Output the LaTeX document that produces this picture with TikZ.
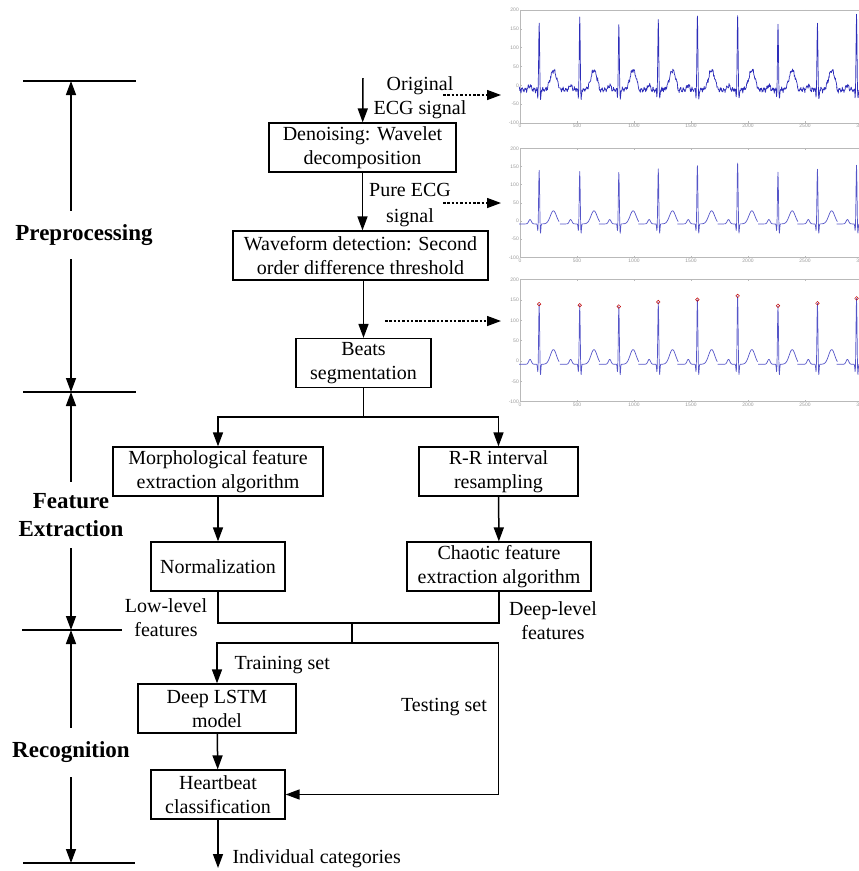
\documentclass[tikz,border=0pt]{standalone}
\usepackage{fontspec}
\setmainfont{Liberation Serif}
\setsansfont{Liberation Sans}
\usetikzlibrary{arrows.meta}

\definecolor{ecgdark}{RGB}{45,45,185}
\definecolor{ecglight}{RGB}{85,85,200}

\tikzset{
  box/.style={draw,line width=1.2pt,align=center,minimum height=49pt,inner xsep=3pt,inner ysep=0pt},
  line/.style={line width=1.5pt},
  arr/.style={line width=1.5pt,-{Triangle[length=14pt,width=10pt]}},
  dasharr/.style={line width=1.3pt,dash pattern=on 2.5pt off 1.8pt,-{Triangle[length=14pt,width=10pt]}},
  lab/.style={align=center},
  sect/.style={align=center,font=\fontsize{23}{28}\selectfont\bfseries},
  ecgline/.style={line width=0.7pt,line join=round},
  axbox/.style={draw=gray!55,line width=0.4pt},
  ticklab/.style={font=\sffamily\fontsize{5}{6}\selectfont,text=gray!80,inner sep=1pt},
}

\begin{document}
\begin{tikzpicture}[x=1pt,y=-1pt,font=\fontsize{20}{24}\selectfont,
  declare function={gauss(\pos,\wid)=exp(-min((\pos/\wid)*(\pos/\wid),9));
    ecgbeat(\pos,\hgt,\tamp,\base)=\base+(\hgt-\base)*gauss(\pos,6)-22*gauss(\pos+11,5)-30*gauss(\pos-11,5)+12*gauss(\pos+80,16)+\tamp*gauss(\pos-125,38);}]
    \useasboundingbox (0,0) rectangle (859,871);

    % ECG panels
    \begin{scope}[shift={(520,85.3)},x=0.114pt,y=0.3767pt]
        \draw[axbox] (0,-100) rectangle (3100,200);
        \foreach \v in {-100,-50,...,200} {\draw[axbox] (0,\v) -- ++(15,0); \node[ticklab,anchor=east] at (0,\v) {\v};}
        \foreach \v in {0,500,...,3000} {\draw[axbox] (\v,-100) -- ++(0,4); \draw[axbox] (\v,200) -- ++(0,-4); \node[ticklab,anchor=north] at (\v,-100) {\v};}
        \foreach \r/\h in {168/163,524/178,867/158,1213/175,1556/185,1909/183,2263/160,2609/162,2952/186}
            \draw[ecgline,ecgdark,shift={(\r,0)}] plot[domain=-175:175,samples=141] (\x,{ecgbeat(\x,\h,52,-12)+4*sin(14*\x)+2.5*sin(37*\x+40)+3*rand});
    \end{scope}
    \begin{scope}[shift={(520,221)},x=0.114pt,y=0.3633pt]
        \draw[axbox] (0,-100) rectangle (3100,200);
        \foreach \v in {-100,-50,...,200} {\draw[axbox] (0,\v) -- ++(15,0); \node[ticklab,anchor=east] at (0,\v) {\v};}
        \foreach \v in {0,500,...,3000} {\draw[axbox] (\v,-100) -- ++(0,4); \draw[axbox] (\v,200) -- ++(0,-4); \node[ticklab,anchor=north] at (\v,-100) {\v};}
        \foreach \r/\h in {168/140,524/137,867/134,1213/144,1556/153,1909/160,2263/135,2609/143,2952/154}
            \draw[ecgline,ecglight,shift={(\r,0)}] plot[domain=-175:175,samples=141] (\x,{ecgbeat(\x,\h,36,-8)});
    \end{scope}
    \begin{scope}[shift={(520,361)},x=0.114pt,y=0.4067pt]
        \draw[axbox] (0,-100) rectangle (3100,200);
        \foreach \v in {-100,-50,...,200} {\draw[axbox] (0,\v) -- ++(15,0); \node[ticklab,anchor=east] at (0,\v) {\v};}
        \foreach \v in {0,500,...,3000} {\draw[axbox] (\v,-100) -- ++(0,4); \draw[axbox] (\v,200) -- ++(0,-4); \node[ticklab,anchor=north] at (\v,-100) {\v};}
        \foreach \r/\h in {168/140,524/137,867/134,1213/145,1556/151,1909/160,2263/136,2609/142,2952/154} {
            \draw[ecgline,ecglight,shift={(\r,0)}] plot[domain=-175:175,samples=141] (\x,{ecgbeat(\x,\h,36,-8)});
            \draw[red!75!black,line width=0.5pt] (\r,\h) circle[radius=1.8pt];
        }
    \end{scope}

    % stages on the left
    \node[sect,minimum height=48pt] (prep) at (84,235) {Preprocessing};
    \node[sect,minimum height=66pt] (feat) at (71,515) {Feature\\Extraction};
    \node[sect,minimum height=49pt] (recog) at (71,752.5) {Recognition};
    \coordinate (t1) at (71,81);
    \coordinate (t2) at (71,392);
    \coordinate (t3) at (71,630);
    \coordinate (t4) at (71,863);
    \draw[line] (23,81) -- (136,81);
    \draw[line] (23,392) -- (136,392);
    \draw[line] (22,630) -- (122,630);
    \draw[line] (23,863) -- (135,863);
    \draw[arr] (prep.north -| t1) -- (t1);
    \draw[arr] (prep.south -| t1) -- (t2);
    \draw[arr] (feat.north) -- (t2);
    \draw[arr] (feat.south) -- (t3);
    \draw[arr] (recog.north) -- (t3);
    \draw[arr] (recog.south) -- (t4);

    % flow
    \node[box,minimum width=187pt] (denoise) at (362.5,147.5) {Denoising: Wavelet\\decomposition};
    \node[box,minimum width=255pt] (wave) at (360.5,255.5) {Waveform detection: Second\\order difference threshold};
    \node[box,minimum width=135pt] (beats) at (363.5,363) {Beats\\segmentation};
    \node[box,minimum width=210pt] (morph) at (218,471.5) {Morphological feature\\extraction algorithm};
    \node[box,minimum width=159pt] (rr) at (498.5,471.5) {R-R interval\\resampling};
    \node[box,minimum width=134pt] (norm) at (218,566.5) {Normalization};
    \node[box,minimum width=184pt] (chaos) at (499,566.5) {Chaotic feature\\extraction algorithm};
    \node[box,minimum width=158pt] (lstm) at (217,708.5) {Deep LSTM\\model};
    \node[box,minimum width=134pt] (heart) at (218,794.5) {Heartbeat\\classification};

    \node[lab] (orig) at (420,97.5) {Original\\ECG signal};
    \node[lab,font=\fontsize{20}{26}\selectfont] (pure) at (410,205) {Pure ECG\\signal};
    \node[lab] (low) at (166,618) {Low-level\\features};
    \node[lab] (deep) at (553,621) {Deep-level\\features};
    \node[anchor=west] (train) at (231,665) {Training set};
    \node (test) at (444,707) {Testing set};
    \node[anchor=west] (indiv) at (229,859) {Individual categories};

    \coordinate (in) at (363,78);
    \coordinate (split) at (363.5,417);
    \coordinate (merge) at (352,623);
    \coordinate (fork) at (352,643);
    \coordinate (tcorner) at (498.5,794.5);
    \coordinate (out) at (218,868);
    \draw[arr] (in) -- (denoise);
    \draw[arr] (denoise.south) -- (denoise.south |- wave.north);
    \draw[arr] (beats |- wave.south) -- (beats);
    \draw[line] (beats) -- (split);
    \draw[arr] (split) -| (morph);
    \draw[arr] (split) -| (rr);
    \draw[arr] (morph) -- (norm);
    \draw[arr] (rr) -- (chaos);
    \draw[line] (norm) |- (merge) -| (chaos);
    \draw[line] (merge) -- (fork);
    \draw[arr] (fork) -| (lstm);
    \draw[arr] (fork) -| (tcorner) -- (heart);
    \draw[arr] (lstm) -- (heart);
    \draw[arr] (heart) -- (out);

    \coordinate (d1a) at (443,95);
    \coordinate (d1b) at (501,95);
    \coordinate (d2a) at (443,203);
    \coordinate (d2b) at (501,203);
    \coordinate (d3a) at (385,321);
    \coordinate (d3b) at (501,321);
    \draw[dasharr] (d1a) -- (d1b);
    \draw[dasharr] (d2a) -- (d2b);
    \draw[dasharr] (d3a) -- (d3b);
\end{tikzpicture}
\end{document}
